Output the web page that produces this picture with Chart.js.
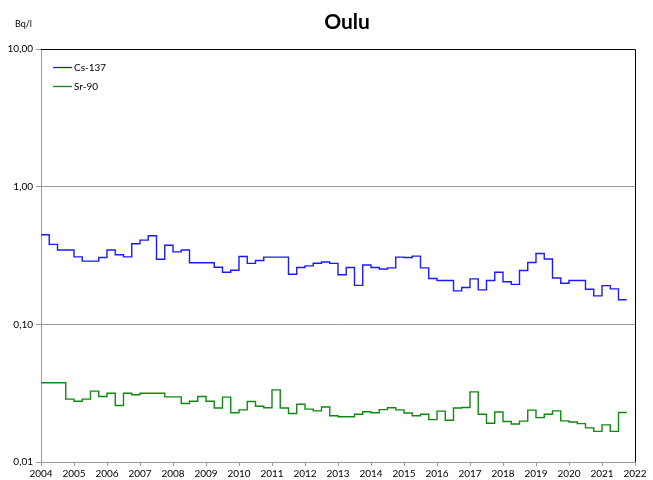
<!DOCTYPE html>
<html lang="fi">
<head>
<meta charset="UTF-8">
<title>Oulu</title>
<script src="https://cdn.jsdelivr.net/npm/chart.js"></script>
<style>
  body { margin: 0; background: #fff; }
</style>
</head>
<body>
<canvas id="grafico" width="653" height="480"></canvas>

<script>
// vuosineljännekset alkaen 2004 Q1
const alkuVuosi = 2004;
const loppuVuosi = 2022;
const yTickArvot = [0.01, 0.1, 1, 10];

const cs137 = [
  0.447, 0.381, 0.347, 0.347, 0.309, 0.288, 0.288, 0.306,
  0.347, 0.320, 0.309, 0.385, 0.409, 0.440, 0.297, 0.375,
  0.336, 0.347, 0.280, 0.280, 0.280, 0.260, 0.239, 0.247,
  0.311, 0.277, 0.291, 0.308, 0.308, 0.308, 0.231, 0.259,
  0.266, 0.278, 0.284, 0.277, 0.229, 0.259, 0.192, 0.270,
  0.259, 0.252, 0.257, 0.308, 0.306, 0.313, 0.257, 0.215,
  0.208, 0.208, 0.175, 0.185, 0.214, 0.178, 0.208, 0.239,
  0.204, 0.195, 0.246, 0.281, 0.327, 0.298, 0.217, 0.199,
  0.208, 0.208, 0.180, 0.161, 0.191, 0.181, 0.151
];

const sr90 = [
  0.0376, 0.0376, 0.0376, 0.0286, 0.0276, 0.0286, 0.0327, 0.0299,
  0.0316, 0.0257, 0.0316, 0.0308, 0.0316, 0.0316, 0.0316, 0.0297,
  0.0297, 0.0266, 0.0276, 0.0299, 0.0276, 0.0247, 0.0296, 0.0228,
  0.0239, 0.0275, 0.0254, 0.0248, 0.0334, 0.0247, 0.0225, 0.0263,
  0.0242, 0.0235, 0.0251, 0.0217, 0.0213, 0.0213, 0.0222, 0.0232,
  0.0228, 0.0240, 0.0248, 0.0239, 0.0227, 0.0217, 0.0222, 0.0203,
  0.0234, 0.0201, 0.0247, 0.0249, 0.0323, 0.0222, 0.0191, 0.0231,
  0.0197, 0.0189, 0.0198, 0.0238, 0.0210, 0.0222, 0.0235, 0.0199,
  0.0195, 0.0190, 0.0177, 0.0167, 0.0186, 0.0167, 0.0229
];

// askelviiva: jokainen arvo pätee neljänneksen loppuun
function pisteet(arvot) {
  const p = arvot.map((v, i) => ({ x: alkuVuosi + i / 4, y: v }));
  p.push({ x: alkuVuosi + arvot.length / 4, y: arvot[arvot.length - 1] });
  return p;
}

const fontti = "Lato, 'Liberation Sans', sans-serif";

// otsikko, yksikkö, selite ja kehyksen ylä- ja oikea reuna
const piirrot = {
  id: 'piirrot',
  afterDraw(chart) {
    const ctx = chart.ctx;
    const a = chart.chartArea;
    ctx.save();
    ctx.strokeStyle = '#000';
    ctx.lineWidth = 1;
    ctx.beginPath();
    ctx.moveTo(a.left, a.top + 0.5);
    ctx.lineTo(a.right + 0.5, a.top + 0.5);
    ctx.lineTo(a.right + 0.5, a.bottom);
    ctx.stroke();

    ctx.fillStyle = '#000';
    ctx.textAlign = 'center';
    ctx.textBaseline = 'middle';
    ctx.font = 'bold 21px ' + fontti;
    ctx.fillText('Oulu', 347, 22);

    ctx.textAlign = 'left';
    ctx.font = '9px ' + fontti;
    ctx.fillText('Bq/l', 15, 24);

    ctx.font = '10px ' + fontti;
    chart.data.datasets.forEach((ds, i) => {
      const y = 67 + i * 19;
      ctx.strokeStyle = ds.borderColor;
      ctx.lineWidth = 1.3;
      ctx.beginPath();
      ctx.moveTo(53, y + 0.5);
      ctx.lineTo(72, y + 0.5);
      ctx.stroke();
      ctx.fillStyle = '#000';
      ctx.fillText(ds.label, 74, y + 1);
    });
    ctx.restore();
  }
};

new Chart(document.getElementById('grafico'), {
  type: 'line',
  data: {
    datasets: [
      {
        label: 'Cs-137',
        data: pisteet(cs137),
        borderColor: '#1a1aff',
        borderWidth: 1.4,
        stepped: 'before',
        pointRadius: 0,
        fill: false
      },
      {
        label: 'Sr-90',
        data: pisteet(sr90),
        borderColor: '#118811',
        borderWidth: 1.4,
        stepped: 'before',
        pointRadius: 0,
        fill: false
      }
    ]
  },
  options: {
    responsive: false,
    animation: false,
    devicePixelRatio: 1,
    layout: { padding: { top: 49, right: 18, left: 0, bottom: 0 } },
    plugins: {
      legend: { display: false },
      title: { display: false },
      tooltip: { enabled: false }
    },
    scales: {
      x: {
        type: 'linear',
        min: alkuVuosi,
        max: loppuVuosi,
        afterFit(scale) { scale.height = 18; },
        ticks: {
          stepSize: 1,
          maxRotation: 0,
          autoSkip: false,
          padding: 2,
          color: '#000',
          font: { family: fontti, size: 10 },
          callback: v => String(v)
        },
        grid: {
          drawOnChartArea: false,
          color: '#9a9a9a',
          tickLength: 4
        },
        border: { color: '#9a9a9a' }
      },
      y: {
        type: 'logarithmic',
        min: 0.01,
        max: 10,
        afterFit(scale) { scale.width = 41; },
        afterBuildTicks(scale) {
          scale.ticks = yTickArvot.map(v => ({ value: v }));
        },
        ticks: {
          padding: 3,
          color: '#000',
          font: { family: fontti, size: 10 },
          callback: v => v.toFixed(2).replace('.', ',')
        },
        grid: {
          color: '#9a9a9a',
          tickLength: 5
        },
        border: { color: '#9a9a9a' }
      }
    }
  },
  plugins: [piirrot]
});
</script>
</body>
</html>
